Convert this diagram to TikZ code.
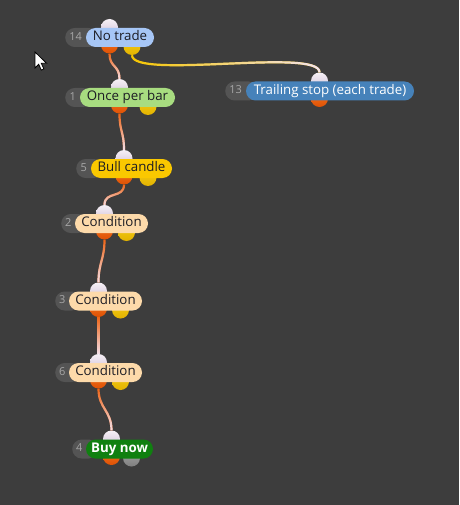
\documentclass[tikz,border=0pt]{standalone}
\usepackage{fontspec}
\setmainfont{Open Sans}
\usetikzlibrary{shapes.misc, fadings}

\definecolor{canvas}{RGB}{61,61,61}
\definecolor{tagbg}{RGB}{84,84,84}
\definecolor{tagfg}{RGB}{168,168,168}
\definecolor{ink}{RGB}{28,28,36}
\definecolor{skyblue}{RGB}{166,198,246}
\definecolor{lime}{RGB}{168,220,128}
\definecolor{steel}{RGB}{70,130,186}
\definecolor{amber}{RGB}{250,200,0}
\definecolor{peach}{RGB}{253,218,170}
\definecolor{buygreen}{RGB}{16,128,16}
\definecolor{inhi}{RGB}{246,240,246}
\definecolor{inlo}{RGB}{208,192,214}
\definecolor{outhi}{RGB}{246,118,36}
\definecolor{outlo}{RGB}{222,82,4}
\definecolor{althi}{RGB}{246,206,24}
\definecolor{altlo}{RGB}{226,178,0}
\definecolor{offhi}{RGB}{164,164,164}
\definecolor{offlo}{RGB}{128,128,128}
\definecolor{wireorange}{RGB}{238,98,18}
\definecolor{wireyellow}{RGB}{246,198,0}
\definecolor{wirepale}{RGB}{244,228,240}

% white end of the links
\tikzfading[name=wirefade, top color=transparent!100, middle color=transparent!92, bottom color=transparent!0]
\tikzfading[name=wirefadeh, left color=transparent!100, middle color=transparent!97, right color=transparent!0]

\begin{document}
\begin{tikzpicture}[x=1pt, y=-1pt,
  tag/.style={rounded rectangle, fill=tagbg, anchor=west, minimum height=19pt, inner sep=0pt},
  tagtxt/.style={font=\fontsize{11}{13}\selectfont, text=tagfg, text height=7.8pt, text depth=2pt, inner sep=0pt, xshift=-6pt},
  pill/.style={rounded rectangle, fill=#1, minimum height=19pt, inner sep=0pt, text=ink,
    font=\fontsize{13.3}{15}\selectfont, text height=9.6pt, text depth=3pt},
  port/.style={circle, minimum size=17pt, inner sep=0pt},
  inport/.style={port, top color=inhi, bottom color=inlo},
  outport/.style={port, top color=outhi, bottom color=outlo},
  altport/.style={port, top color=althi, bottom color=altlo},
  offport/.style={port, top color=offhi, bottom color=offlo},
  link/.style={line width=2.2pt, draw=wireorange, postaction={draw=wirepale, path fading=wirefade}},
  hlink/.style={line width=2.2pt, draw=wireyellow, postaction={draw=wirepale, path fading=wirefadeh}}]
  \useasboundingbox[fill=canvas] (0,0) rectangle (459,505);

  % ports
  \node[inport] (nt-in) at (109.5,27.5) {};
  \node[outport] (nt-out) at (109.5,45) {};
  \node[altport] (nt-alt) at (132,46.5) {};
  \node[inport] (op-in) at (119.5,87.5) {};
  \node[outport] (op-out) at (119.5,105) {};
  \node[altport] (op-alt) at (148,106.5) {};
  \node[inport] (ts-in) at (319.5,81) {};
  \node[outport] (ts-out) at (319.5,98.5) {};
  \node[inport] (bc-in) at (124,158.5) {};
  \node[outport] (bc-out) at (124,176) {};
  \node[altport] (bc-alt) at (148,177.5) {};
  \node[inport] (c2-in) at (104.5,213.5) {};
  \node[outport] (c2-out) at (104.5,231) {};
  \node[altport] (c2-alt) at (126.5,232.5) {};
  \node[inport] (c3-in) at (98.5,291) {};
  \node[outport] (c3-out) at (98.5,308.5) {};
  \node[altport] (c3-alt) at (120.5,310) {};
  \node[inport] (c6-in) at (98.5,362.5) {};
  \node[outport] (c6-out) at (98.5,380) {};
  \node[altport] (c6-alt) at (120.5,381.5) {};
  \node[inport] (bn-in) at (111.5,439) {};
  \node[outport] (bn-out) at (111.5,456.5) {};
  \node[offport] (bn-alt) at (131.5,458) {};

  % links
  \draw[link] (nt-out.south) .. controls +(0,14) and +(0,-14) .. (op-in.north);
  \draw[hlink] (nt-alt.south) .. controls +(0,25) and +(0,-25) .. (ts-in.north);
  \draw[link] (op-out.south) .. controls +(0,18) and +(0,-18) .. (bc-in.north);
  \draw[link] (bc-out.south) .. controls +(0,14) and +(0,-14) .. (c2-in.north);
  \draw[link] (c2-out.south) .. controls +(0,20) and +(0,-20) .. (c3-in.north);
  \draw[link] (c3-out.south) .. controls +(0,18) and +(0,-18) .. (c6-in.north);
  \draw[link] (c6-out.south) .. controls +(0,20) and +(0,-20) .. (bn-in.north);

  % blocks
  \node[tag, minimum width=33pt, label={[tagtxt]center:14}] (nt-tag) at (65,37.5) {};
  \node[pill=skyblue, minimum width=68pt] (nt) at (120,37.5) {No trade};
  \node[tag, minimum width=27pt, label={[tagtxt]center:1}] (op-tag) at (65,97.5) {};
  \node[pill=lime, minimum width=95pt] (op) at (127.5,97.5) {Once per bar};
  \node[tag, minimum width=33pt, label={[tagtxt]center:13}] (ts-tag) at (225,91) {};
  \node[pill=steel, minimum width=168pt, text=white] (ts) at (330,91) {Trailing stop (each trade)};
  \node[tag, minimum width=27pt, label={[tagtxt]center:5}] (bc-tag) at (76,168.5) {};
  \node[pill=amber, minimum width=81pt] (bc) at (131.5,168.5) {Bull candle};
  \node[tag, minimum width=26pt, label={[tagtxt]center:2}] (c2-tag) at (61,223.5) {};
  \node[pill=peach, minimum width=73pt] (c2) at (111.5,223.5) {Condition};
  \node[tag, minimum width=26pt, label={[tagtxt]center:3}] (c3-tag) at (55,301) {};
  \node[pill=peach, minimum width=73pt] (c3) at (105.5,301) {Condition};
  \node[tag, minimum width=26pt, label={[tagtxt]center:6}] (c6-tag) at (55,372.5) {};
  \node[pill=peach, minimum width=73pt] (c6) at (105.5,372.5) {Condition};
  \node[tag, minimum width=26pt, label={[tagtxt]center:4}] (bn-tag) at (72,449) {};
  \node[pill=buygreen, minimum width=67pt, text=white, font=\fontsize{13.3}{15}\selectfont\bfseries] (bn) at (119.5,449) {Buy now};

  % mouse pointer
  \draw[fill=white, line width=0.8pt, line join=miter] (35,52) -- ++(0,16) -- ++(3.7,-3.7) -- ++(2.6,5.8)
    -- ++(2.6,-1.1) -- ++(-2.6,-5.7) -- ++(5.3,0) -- cycle;
\end{tikzpicture}
\end{document}
